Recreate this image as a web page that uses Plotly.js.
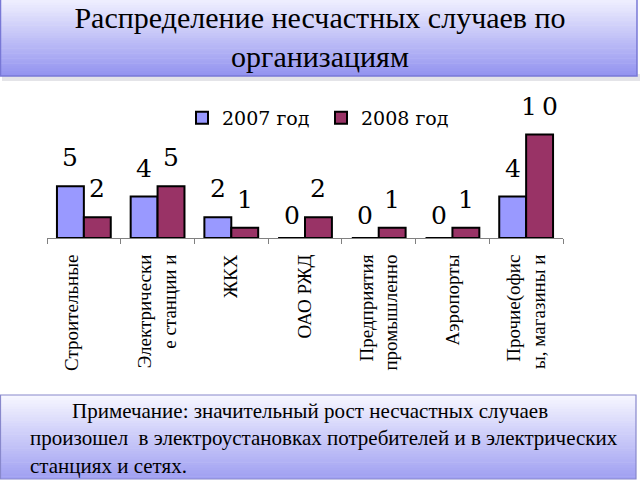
<!DOCTYPE html>
<html>
<head>
<meta charset="utf-8">
<script src="https://cdn.plot.ly/plotly-3.0.1.min.js"></script>
<style>html,body{margin:0;padding:0;background:#fff;}#chart{width:640px;height:480px;}</style>
</head>
<body>
<div id="chart"></div>
<script>
// ---- data ----
const categories = [
  "Строительные<br>\u00a0",
  "Электрически<br>е станции и",
  "ЖКХ",
  "ОАО РЖД",
  "Предприятия<br>промышленно",
  "Аэропорты",
  "Прочие(офис<br>ы, магазины и"
];
const series2007 = [5, 4, 2, 0, 0, 0, 4];
const series2008 = [2, 5, 1, 2, 1, 1, 10];
const seriesNames = ["2007 год", "2008 год"];
const titleText = "Распределение несчастных случаев по<br>организациям";
const noteLines = [
  "\u00a0\u00a0\u00a0\u00a0\u00a0\u00a0\u00a0\u00a0Примечание: значительный рост несчастных случаев",
  "произошел \u00a0в электроустановках потребителей и в электрических",
  "станциях и сетях."
];

const SERIF = "'Liberation Serif', 'Times New Roman', serif";
const SERIF2 = "'DejaVu Serif', serif";

// ---- layout geometry (pixels) ----
const W = 640, H = 480;
const L = 47, R = 563, T = 100, B = 238;
const pw = R - L, ph = B - T;
const px = p => (p - L) / pw;
const py = p => (B - p) / ph;
const BARGAP = 0.27;
const halfBar = pw / categories.length * (1 - BARGAP) / 4;

function lerp(a, b, t) { return Math.round(a + (b - a) * t); }
function gradientBands(x0, x1, y0, y1, c0, c1, n) {
  const out = [];
  for (let i = 0; i < n; i++) {
    const t = i / (n - 1);
    const ya = y0 + (y1 - y0) * i / n, yb = y0 + (y1 - y0) * (i + 1) / n + 0.5;
    out.push({
      type: "rect", xref: "paper", yref: "paper", layer: "below",
      x0: px(x0), x1: px(x1), y0: py(ya), y1: py(Math.min(yb, y1)),
      fillcolor: `rgb(${lerp(c0[0], c1[0], t)},${lerp(c0[1], c1[1], t)},${lerp(c0[2], c1[2], t)})`,
      line: { width: 0 }
    });
  }
  return out;
}

const shapes = [];
shapes.push({ type: "rect", xref: "paper", yref: "paper", layer: "below",
  x0: px(2), x1: px(640), y0: py(81), y1: py(74), fillcolor: "rgb(228,228,232)", line: { width: 0 } });
shapes.push(...gradientBands(0, 637, 0, 76, [238, 238, 254], [148, 148, 240], 30));
shapes.push({ type: "rect", xref: "paper", yref: "paper", layer: "below",
  x0: px(0.5), x1: px(637), y0: py(76), y1: py(-2), fillcolor: "rgba(0,0,0,0)",
  line: { color: "rgb(120,120,214)", width: 1.5 } });
shapes.push(...gradientBands(0, 636, 395, 479, [246, 246, 255], [160, 160, 242], 30));
shapes.push({ type: "rect", xref: "paper", yref: "paper", layer: "below",
  x0: px(0.5), x1: px(636), y0: py(479), y1: py(395), fillcolor: "rgba(0,0,0,0)",
  line: { color: "rgb(136,136,204)", width: 1.2 } });

const spaced = v => String(v).split("").join("\u2009");

const data = [
  {
    type: "bar", name: seriesNames[0], x: categories, y: series2007,
    marker: { color: "#9999FF", line: { color: "#000", width: 2 } }, hoverinfo: "skip"
  },
  {
    type: "bar", name: seriesNames[1], x: categories, y: series2008,
    marker: { color: "#993366", line: { color: "#000", width: 2 } }, hoverinfo: "skip"
  }
];

// value labels above bars
const valueLabels = [];
[series2007, series2008].forEach((vals, s) => {
  vals.forEach((v, i) => {
    valueLabels.push({
      xref: "x", yref: "y", x: categories[i], y: v,
      xshift: (s === 0 ? -1 : 1) * halfBar, yshift: v === 0 ? 6 : 12,
      xanchor: "center", yanchor: "bottom", showarrow: false,
      text: spaced(v),
      font: { family: SERIF2, size: 25, color: "#000" }
    });
  });
});

const layout = {
  width: W, height: H,
  margin: { l: L, r: W - R, t: T, b: H - B, pad: 0 },
  paper_bgcolor: "#fff", plot_bgcolor: "rgba(0,0,0,0)",
  barmode: "group", bargap: BARGAP, bargroupgap: 0,
  showlegend: true,
  font: { family: SERIF },
  title: {
    text: titleText,
    font: { family: SERIF, size: 30, color: "#000" },
    x: 0.5, xref: "container", xanchor: "center",
    y: 1 - 28 / H, yref: "container", yanchor: "middle"
  },
  legend: {
    orientation: "h", x: px(182), y: py(99), xanchor: "left", yanchor: "top",
    font: { family: SERIF2, size: 19, color: "#000" },
    bgcolor: "rgba(0,0,0,0)", traceorder: "normal",
    itemwidth: 30,
    entrywidth: 94, entrywidthmode: "pixels"
  },
  xaxis: {
    type: "category",
    showline: true, linecolor: "#808080", linewidth: 1,
    showgrid: false, zeroline: false,
    ticks: "outside", tickson: "boundaries", ticklen: 5, tickcolor: "#808080", tickwidth: 1,
    tickangle: -90, ticklabelstandoff: 8,
    tickfont: { family: SERIF, size: 19, color: "#000" },
    fixedrange: true
  },
  yaxis: {
    visible: false, range: [0, ph / 10.35], fixedrange: true
  },
  shapes: shapes,
  annotations: valueLabels.concat([{
    xref: "paper", yref: "paper", x: px(28), y: py(397), xanchor: "left", yanchor: "top",
    align: "left", showarrow: false,
    text: noteLines.join("<br>"),
    font: { family: SERIF, size: 21, color: "#000" }
  }])
};

Plotly.newPlot("chart", data, layout, { staticPlot: true, displayModeBar: false });
</script>
</body>
</html>
